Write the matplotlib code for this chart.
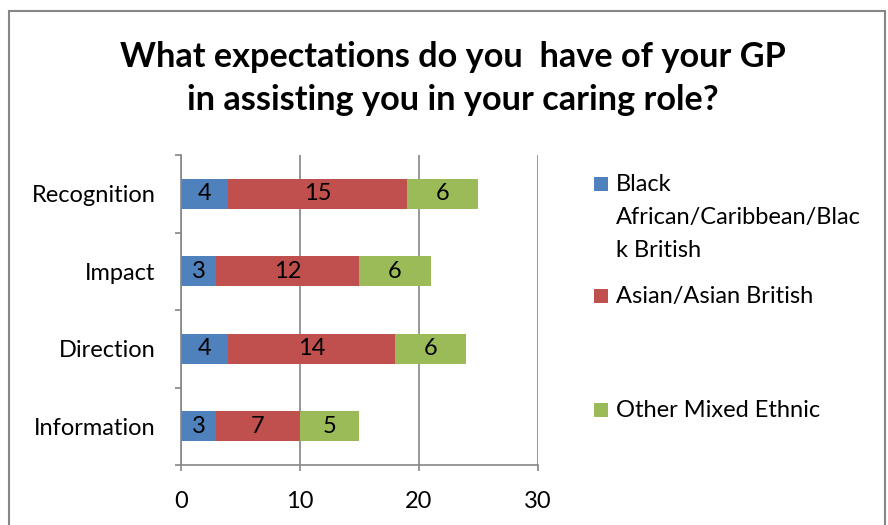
import matplotlib.pyplot as plt
from matplotlib.patches import Rectangle
import numpy as np

plt.rcParams['font.family'] = ['Lato', 'DejaVu Sans']

categories = ["Information", "Direction", "Impact", "Recognition"]
black_african = [3, 4, 3, 4]
asian = [7, 14, 12, 15]
other_mixed = [5, 6, 6, 6]

series_names = ["Black\nAfrican/Caribbean/Blac\nk British",
                "Asian/Asian British",
                "Other Mixed Ethnic"]
colors = ["#4F81BD", "#C0504D", "#9BBB59"]
grey = "#868686"
fs = 17

W, H = 888, 525
fig = plt.figure(figsize=(W / 100, H / 100), dpi=100)

# outer chart border (bottom edge falls off the canvas)
fig.patches.append(Rectangle((9 / W, -0.02), 876 / W, 1.02 - 11 / H, transform=fig.transFigure,
                             fill=False, edgecolor=grey, linewidth=1.5))

ax = fig.add_axes([180.7 / W, 1 - 465 / H, 357 / W, 310 / H])

y = np.arange(len(categories))
left = np.zeros(len(categories))
for vals, c in zip([black_african, asian, other_mixed], colors):
    vals = np.array(vals)
    ax.barh(y, vals, left=left, height=0.39, color=c, zorder=3)
    for yi, l, v in zip(y, left, vals):
        ax.text(l + v / 2, yi, str(v), ha='center', va='center', fontsize=fs, zorder=4)
    left += vals

ax.set_xlim(0, 30)
ax.set_ylim(-0.5, len(categories) - 0.5)
ax.set_xticks([0, 10, 20, 30])
ax.tick_params(axis='x', length=4, width=1.2, color=grey, pad=15, labelsize=fs)

# category boundary ticks on y, labels at centers
ax.set_yticks(np.arange(-0.5, len(categories)), labels=[])
ax.set_yticks(y, labels=categories, minor=True)
ax.tick_params(axis='y', which='major', length=4, width=1.2, color=grey)
ax.tick_params(axis='y', which='minor', length=0, pad=18, labelsize=fs)

ax.grid(axis='x', color=grey, linewidth=1.2, zorder=0)
for s in ['top', 'right']:
    ax.spines[s].set_visible(False)
for s in ['left', 'bottom']:
    ax.spines[s].set_color(grey)
    ax.spines[s].set_linewidth(1.2)
    ax.spines[s].set_zorder(5)

fig.text(453 / W, 1 - 67 / H, "What expectations do you  have of your GP", ha='center',
         va='baseline', fontsize=24.7, fontweight='bold')
fig.text(453 / W, 1 - 110 / H, "in assisting you in your caring role?", ha='center',
         va='baseline', fontsize=24.7, fontweight='bold')

# legend
legend_baselines = [191, 303, 417]
for name, c, b in zip(series_names, colors, legend_baselines):
    fig.patches.append(Rectangle((594 / W, 1 - b / H), 14 / W, 14 / H,
                                 transform=fig.transFigure, facecolor=c, edgecolor='none'))
    for i, line in enumerate(name.split("\n")):
        fig.text(616 / W, 1 - (b + 33 * i) / H, line, ha='left', va='baseline', fontsize=fs)

fig.savefig("out.png", dpi=100)
